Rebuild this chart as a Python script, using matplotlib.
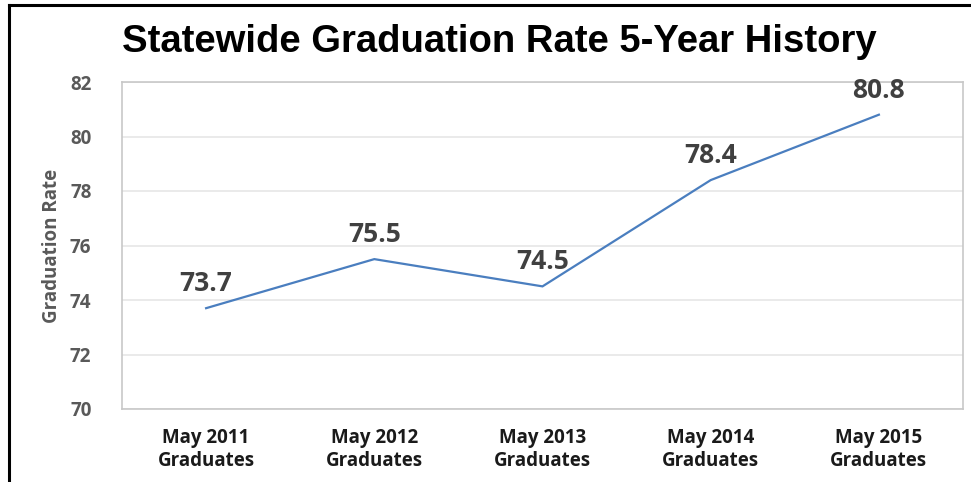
import matplotlib
matplotlib.use("Agg")
import matplotlib.pyplot as plt
from matplotlib.lines import Line2D

# data
categories = ["May 2011\nGraduates", "May 2012\nGraduates", "May 2013\nGraduates",
              "May 2014\nGraduates", "May 2015\nGraduates"]
rates = [73.7, 75.5, 74.5, 78.4, 80.8]
yticks = [70, 72, 74, 76, 78, 80, 82]

W, H = 971, 482
fig = plt.figure(figsize=(W / 100, H / 100), dpi=100)
ax = fig.add_axes([122 / W, 1 - 409 / H, (963 - 122) / W, (409 - 82) / H])

x = list(range(len(categories)))
ax.plot(x, rates, color="#4a7ebf", lw=1.6, solid_joinstyle="miter")
for xi, v in zip(x, rates):
    ax.annotate(f"{v}", (xi, v), xytext=(0, 8), textcoords="offset points",
                ha="center", va="bottom", fontsize=19, fontweight="bold",
                color="#404040", family="Open Sans")

ax.set_xlim(-0.5, len(categories) - 0.5)
ax.set_ylim(70, 82)
ax.set_yticks(yticks)
ax.set_yticklabels([str(t) for t in yticks], fontsize=13.5, fontweight="bold",
                   color="#595959", family="Open Sans")
ax.set_xticks(x)
ax.set_xticklabels(categories, fontsize=13.5, fontweight="bold", color="#1a1a1a",
                   family="Open Sans", linespacing=1.2)
ax.tick_params(axis="both", length=0)
ax.tick_params(axis="y", pad=22)
ax.tick_params(axis="x", pad=14)
ax.grid(axis="y", color="#e6e6e6", lw=1.2)
ax.set_axisbelow(True)
for s in ax.spines.values():
    s.set_color("#c8c8c8")
    s.set_linewidth(1.2)

ax.set_ylabel("Graduation Rate", fontsize=13.5, color="#595959", family="Open Sans",
              fontweight="bold", labelpad=6)

fig.text(499 / W, 1 - 42 / H, "Statewide Graduation Rate 5-Year History",
         ha="center", va="center", fontsize=27.5, fontweight="bold",
         family="Liberation Sans", color="black")

# picture frame (left and top edges)
fig.add_artist(Line2D([9 / W, 9 / W], [0, 1 - 5 / H], color="black", lw=2.2,
                      transform=fig.transFigure))
fig.add_artist(Line2D([9 / W, 970 / W], [1 - 5 / H, 1 - 5 / H], color="black", lw=2.2,
                      transform=fig.transFigure))

fig.savefig("out.png", dpi=100)
